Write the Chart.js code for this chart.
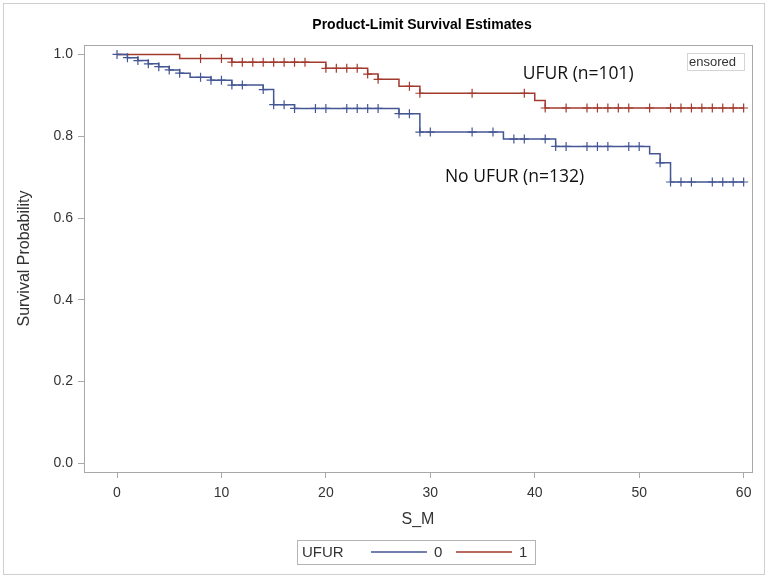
<!DOCTYPE html>
<html>
<head>
<meta charset="utf-8">
<script src="https://cdn.jsdelivr.net/npm/chart.js@4/dist/chart.umd.min.js"></script>
<style>
  html, body { margin: 0; padding: 0; background: #fff; }
  canvas { display: block; }
</style>
</head>
<body>
<canvas id="km" width="771" height="581"></canvas>
<script>
// Kaplan-Meier steps (time in months, survival)
const noUfurTimes = [0, 1, 2, 3, 4, 5, 6, 7, 9, 11, 14, 15, 17, 27, 29, 37, 42, 51, 52, 53, 60];
const noUfurSurv  = [1, 0.992, 0.985, 0.977, 0.970, 0.962, 0.954, 0.944, 0.937, 0.925, 0.914, 0.877, 0.868, 0.855, 0.810, 0.793, 0.775, 0.757, 0.735, 0.688, 0.688];
const noUfurCensor = [0, 1, 2, 3, 4, 5, 6, 8, 9, 10, 11, 12, 14, 15, 16, 17, 19, 20, 22, 23, 24, 25, 27, 28, 29, 30, 34, 36,
                      38, 39, 41, 42, 43, 45, 46, 47, 49, 50, 52, 53, 54, 55, 57, 58, 59, 60];

const ufurTimes = [0, 6, 11, 20, 24, 25, 27, 29, 40, 41, 60];
const ufurSurv  = [1, 0.990, 0.981, 0.966, 0.952, 0.939, 0.922, 0.905, 0.887, 0.869, 0.869];
const ufurCensor = [8, 10, 11, 12, 13, 14, 15, 16, 17, 18, 20, 21, 22, 23, 24, 25, 28, 29, 34, 39, 41,
                    43, 45, 46, 47, 48, 49, 51, 53, 54, 55, 56, 57, 58, 59, 60];

const xTicks = [0, 10, 20, 30, 40, 50, 60];
const yTicks = [0, 0.2, 0.4, 0.6, 0.8, 1.0];
const groupLabels = ['0', '1'];

const BLUE = '#445694';
const RED = '#A23A2E';
const SAS_FONT = "'Liberation Sans', Arial, sans-serif";

// survival value at time t (right-continuous step)
function survAt(times, surv, t) {
  let s = surv[0];
  for (let i = 0; i < times.length; i++) {
    if (times[i] <= t) s = surv[i];
  }
  return s;
}

function steps(times, surv) {
  return times.map((t, i) => ({ x: t, y: surv[i] }));
}

function marks(times, surv, censor) {
  return censor.map(t => ({ x: t, y: survAt(times, surv, t) }));
}

const sasDecor = {
  id: 'sasDecor',
  beforeDraw(chart) {
    const ctx = chart.ctx;
    ctx.save();
    ctx.fillStyle = '#fff';
    ctx.fillRect(0, 0, chart.width, chart.height);
    ctx.strokeStyle = '#cfcfcf';
    ctx.lineWidth = 1;
    ctx.strokeRect(3.5, 3.5, 761, 571);
    ctx.restore();
  },
  afterDraw(chart) {
    const ctx = chart.ctx;
    const a = chart.chartArea;
    const xs = chart.scales.x, ys = chart.scales.y;
    const midX = (a.left + a.right) / 2;
    ctx.save();

    // plot frame
    ctx.strokeStyle = '#a8a8a8';
    ctx.lineWidth = 1;
    ctx.strokeRect(Math.round(a.left) + 0.5, Math.round(a.top) + 0.5,
                   Math.round(a.right - a.left), Math.round(a.bottom - a.top));

    // title
    ctx.fillStyle = '#000';
    ctx.textAlign = 'center';
    ctx.textBaseline = 'middle';
    ctx.font = 'bold 14px ' + SAS_FONT;
    ctx.fillText('Product-Limit Survival Estimates', midX + 4, 25);

    // axis titles
    ctx.fillStyle = '#333';
    ctx.font = '16px ' + SAS_FONT;
    ctx.fillText('S_M', midX, 520);
    ctx.save();
    ctx.translate(25, (a.top + a.bottom) / 2);
    ctx.rotate(-Math.PI / 2);
    ctx.fillText('Survival Probability', 0, 0);
    ctx.restore();

    // group annotations
    ctx.fillStyle = '#111';
    ctx.textAlign = 'left';
    ctx.font = '17.5px "Open Sans", sans-serif';
    ctx.fillText('UFUR (n=101)', xs.getPixelForValue(38.85), ys.getPixelForValue(0.952));
    ctx.fillText('No UFUR (n=132)', xs.getPixelForValue(31.4), ys.getPixelForValue(0.701));

    // clipped censored legend
    ctx.fillStyle = '#fff';
    ctx.fillRect(687, 53, 57, 17);
    ctx.strokeStyle = '#d4d4d4';
    ctx.strokeRect(687.5, 53.5, 57, 17);
    ctx.fillStyle = '#333';
    ctx.font = '13px ' + SAS_FONT;
    ctx.fillText('ensored', 689, 62);

    // bottom legend
    ctx.strokeStyle = '#b4b4b4';
    ctx.lineWidth = 1;
    ctx.strokeRect(297.5, 540.5, 238, 24);
    ctx.fillStyle = '#333';
    ctx.font = '15px ' + SAS_FONT;
    ctx.fillText('UFUR', 302, 553);
    const items = [
      { color: BLUE, x: 371, label: groupLabels[0] },
      { color: RED, x: 456, label: groupLabels[1] }
    ];
    items.forEach(it => {
      ctx.strokeStyle = it.color;
      ctx.lineWidth = 1.5;
      ctx.beginPath();
      ctx.moveTo(it.x, 552);
      ctx.lineTo(it.x + 56, 552);
      ctx.stroke();
      ctx.fillStyle = '#333';
      ctx.fillText(it.label, it.x + 63, 553);
    });
    ctx.restore();
  }
};

const tickCfg = {
  display: true,
  drawOnChartArea: false,
  drawTicks: true,
  tickLength: 6,
  color: '#a8a8a8'
};

new Chart(document.getElementById('km'), {
  type: 'line',
  data: {
    datasets: [
      {
        label: 'UFUR 0',
        data: steps(noUfurTimes, noUfurSurv),
        borderColor: BLUE,
        borderWidth: 1.5,
        stepped: true,
        pointRadius: 0,
        fill: false
      },
      {
        label: 'UFUR 1',
        data: steps(ufurTimes, ufurSurv),
        borderColor: RED,
        borderWidth: 1.5,
        stepped: true,
        pointRadius: 0,
        fill: false
      },
      {
        label: 'Censored 0',
        type: 'scatter',
        data: marks(noUfurTimes, noUfurSurv, noUfurCensor),
        borderColor: BLUE,
        backgroundColor: BLUE,
        pointStyle: 'cross',
        pointRadius: 4.5,
        pointBorderWidth: 1.2,
        showLine: false
      },
      {
        label: 'Censored 1',
        type: 'scatter',
        data: marks(ufurTimes, ufurSurv, ufurCensor),
        borderColor: RED,
        backgroundColor: RED,
        pointStyle: 'cross',
        pointRadius: 4.5,
        pointBorderWidth: 1.2,
        showLine: false
      }
    ]
  },
  options: {
    responsive: false,
    animation: false,
    devicePixelRatio: 1,
    layout: { padding: { top: 45, right: 19, bottom: 69, left: 0 } },
    plugins: {
      legend: { display: false },
      title: { display: false },
      tooltip: { enabled: false }
    },
    scales: {
      x: {
        type: 'linear',
        min: -3.16,
        max: 60.8,
        grid: tickCfg,
        border: { display: true, color: '#a8a8a8' },
        ticks: { color: '#333', font: { size: 14, family: SAS_FONT }, padding: 7, maxRotation: 0 },
        afterBuildTicks: s => { s.ticks = xTicks.map(v => ({ value: v })); },
        afterFit: s => { s.height = 40; }
      },
      y: {
        type: 'linear',
        min: -0.021,
        max: 1.023,
        grid: tickCfg,
        border: { display: true, color: '#a8a8a8' },
        ticks: {
          color: '#333',
          font: { size: 14, family: SAS_FONT },
          padding: 5,
          callback: v => v.toFixed(1)
        },
        afterBuildTicks: s => { s.ticks = yTicks.map(v => ({ value: v })); },
        afterFit: s => { s.width = 84; }
      }
    }
  },
  plugins: [sasDecor]
});
</script>
</body>
</html>
